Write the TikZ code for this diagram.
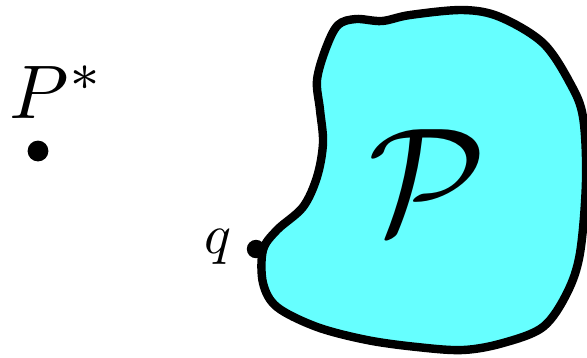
\documentclass[tikz,border=0pt]{standalone}
\usetikzlibrary{positioning}
\definecolor{blobcyan}{RGB}{102,255,255}
\begin{document}
\begin{tikzpicture}[x=0.25pt, y=-0.25pt,
      dot/.style={circle, fill=black, inner sep=0pt},
      lbl/.style={inner sep=0pt},
    ]
      \useasboundingbox (0,0) rectangle (587,357);
      \clip (0,0) rectangle (587,357);
      % region
      \draw[line width=2.1pt, fill=blobcyan] plot[smooth cycle, tension=0.55] coordinates {
        (356,19) (382,21) (410,15) (463,10) (500,17) (543,43) (570,83) (583,117)
        (586,180) (580,253) (567,293) (543,327) (503,343) (463,350) (417,347)
        (367,340) (317,327) (277,307) (263,283) (263,250) (277,230) (303,207)
        (317,177) (323,143) (320,110) (317,80) (326,48) (338,25)};
      \node[dot, minimum size=5.2pt] (Pstar) at (38,151) {};
      \node[dot, minimum size=4.6pt] (q) at (256,249) {};
      \node[lbl, scale=1.9] (PstarLbl) at (57,92) {$P^*$};
      \node[lbl, scale=1.4] (qLbl) at (218,247) {$q$};
      \node[lbl, scale=3.8] (Pcal) at (428,182) {$\mathcal{P}$};
    \end{tikzpicture}
\end{document}
